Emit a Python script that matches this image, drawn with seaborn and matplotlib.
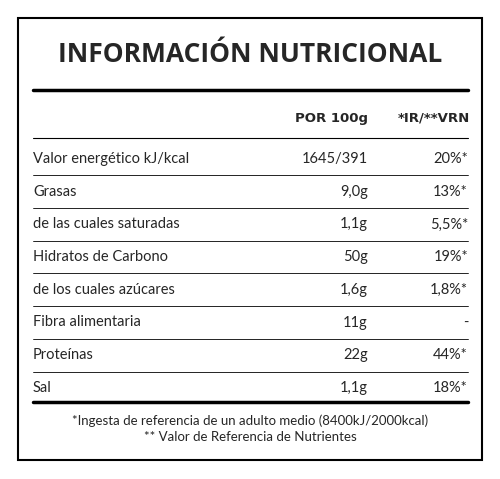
import seaborn as sns
import matplotlib.pyplot as plt
from matplotlib.patches import Rectangle

sns.set_theme(style="white")
plt.rcParams['font.family'] = ['DejaVu Sans']

title = 'INFORMACIÓN NUTRICIONAL'
headers = ['POR 100g', '*IR/**VRN']
nutrients = ['Valor energético kJ/kcal', 'Grasas', 'de las cuales saturadas',
             'Hidratos de Carbono', 'de los cuales azúcares', 'Fibra alimentaria',
             'Proteínas', 'Sal']
per100 = ['1645/391', '9,0g', '1,1g', '50g', '1,6g', '11g', '22g', '1,1g']
ir = ['20%*', '13%*', '5,5%*', '19%*', '1,8%*', '-', '44%*', '18%*']
notes = ['*Ingesta de referencia de un adulto medio (8400kJ/2000kcal)',
         '** Valor de Referencia de Nutrientes']

fig = plt.figure(figsize=(5, 4.79), dpi=100)
ax = fig.add_axes([0, 0, 1, 1])
ax.set_xlim(0, 500)
ax.set_ylim(479, 0)
ax.axis('off')

ax.add_patch(Rectangle((18, 18), 464, 442, fill=False, lw=1.5, color='black'))
ax.text(250, 54, title, ha='center', va='center', fontsize=19, fontweight='bold',
        family='Open Sans', stretch='condensed')
ax.plot([33, 468], [90, 90], color='black', lw=2.5)
ax.text(368, 118, headers[0], ha='right', va='center', fontsize=9.5, fontweight='bold')
ax.text(470, 118, headers[1], ha='right', va='center', fontsize=9.5, fontweight='bold')
ax.plot([33, 468], [138, 138], color='black', lw=0.8)

y0, dy = 159, 32.7
for i, (n, v, r) in enumerate(zip(nutrients, per100, ir)):
    y = y0 + i * dy
    ax.text(33, y, n, ha='left', va='center', fontsize=10.5, family='Lato')
    ax.text(368, y, v, ha='right', va='center', fontsize=10.5, family='Lato')
    ax.text(468, y, r, ha='right', va='center', fontsize=10.5, family='Lato')
    if i < len(nutrients) - 1:
        ax.plot([33, 468], [y + dy / 2, y + dy / 2], color='black', lw=0.6)
ax.plot([33, 468], [402, 402], color='black', lw=2.5)

ax.text(250, 421, notes[0], ha='center', va='center', fontsize=9.5, family='Lato')
ax.text(250, 437, notes[1], ha='center', va='center', fontsize=9.5, family='Lato')

fig.savefig('out.png', dpi=100)
